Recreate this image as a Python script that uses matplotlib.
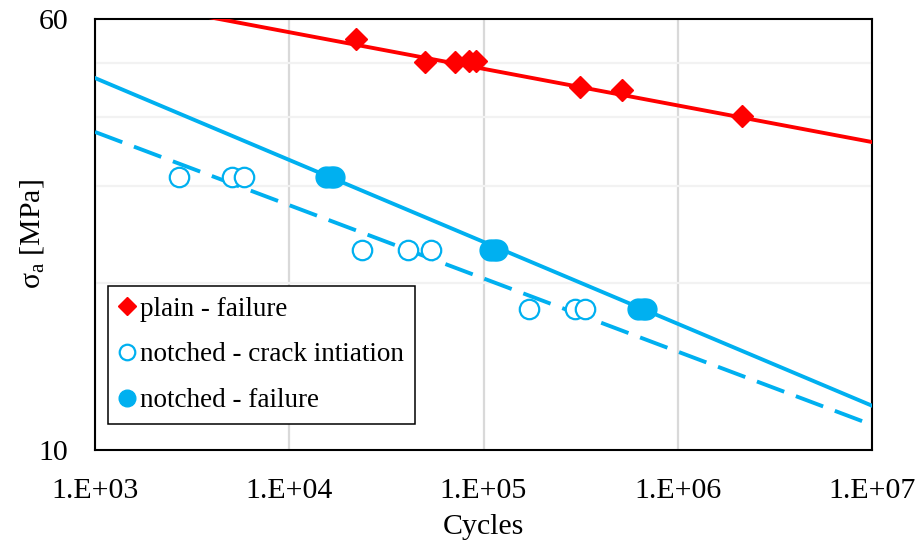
import numpy as np
import matplotlib
matplotlib.use("Agg")
from matplotlib import pyplot as plt
from matplotlib.ticker import FixedLocator, NullLocator, FuncFormatter

plt.rcParams['font.family'] = ['Liberation Serif', 'DejaVu Serif']
plt.rcParams['mathtext.fontset'] = 'custom'
plt.rcParams['mathtext.rm'] = 'Liberation Serif'

# plain specimens - failure
plain_N = [22100, 49800, 71000, 84000, 91000, 314000, 516000, 2130000]
plain_S = [55.1, 50.1, 50.2, 50.4, 50.4, 45.2, 44.7, 40.1]

# notched specimens - crack initiation
crack_N = [2700, 5050, 5870, 23600, 40700, 53400, 171000, 295000, 333000]
crack_S = [31.1, 31.1, 31.1, 23.0, 23.0, 23.0, 18.0, 18.0, 18.0]

# notched specimens - failure
fail_N = [15500, 16500, 17000, 108000, 113000, 117000, 625000, 660000, 690000]
fail_S = [31.1, 31.1, 31.1, 23.0, 23.0, 23.0, 18.0, 18.0, 18.0]

# power-law trendlines S = A * N^b
plain_A, plain_b = 104.4, -0.0661
fail_A, fail_b = 130.4, -0.1479
crack_A, crack_b = 93.5, -0.1322

red = '#FF0000'
blue = '#00B0F0'

fig = plt.figure(figsize=(9.2, 5.5), dpi=100)
ax = fig.add_axes([95/920, 100/550, 777/920, 431/550])
ax.set_xscale('log')
ax.set_yscale('log')
ax.set_xlim(1e3, 1e7)
ax.set_ylim(10, 60)

Nfit = np.logspace(3, 7, 200)
ax.plot(Nfit, plain_A * Nfit**plain_b, color=red, lw=2.8, zorder=3)
ax.plot(Nfit, fail_A * Nfit**fail_b, color=blue, lw=2.8, zorder=3)
ax.plot(Nfit, crack_A * Nfit**crack_b, color=blue, lw=2.8, dashes=(7.5, 3.2), zorder=3)

ax.plot(plain_N, plain_S, 'D', color=red, ms=11.5, mec=red, ls='none',
        label='plain - failure', zorder=4)
ax.plot(crack_N, crack_S, 'o', mfc='white', mec=blue, mew=1.6, ms=14, ls='none',
        label='notched - crack intiation', zorder=4)
ax.plot(fail_N, fail_S, 'o', color=blue, ms=15, ls='none',
        label='notched - failure', zorder=4)

# ticks and grid
ax.xaxis.set_major_locator(FixedLocator([1e3, 1e4, 1e5, 1e6, 1e7]))
ax.xaxis.set_minor_locator(NullLocator())
ax.xaxis.set_major_formatter(FuncFormatter(lambda v, p: '1.E+%02d' % round(np.log10(v))))
ax.yaxis.set_major_locator(FixedLocator([10, 60]))
ax.yaxis.set_minor_locator(FixedLocator([20, 30, 40, 50]))
ax.yaxis.set_major_formatter(FuncFormatter(lambda v, p: '%d' % v))
ax.yaxis.set_minor_formatter(FuncFormatter(lambda v, p: ''))
ax.tick_params(axis='both', which='both', length=0, labelsize=21.5)
ax.tick_params(axis='x', pad=20)
ax.tick_params(axis='y', pad=19)
ax.grid(axis='x', which='major', color='#D9D9D9', lw=1.6, zorder=0)
ax.grid(axis='y', which='minor', color='#F2F2F2', lw=1.6, zorder=0)
ax.set_axisbelow(True)

for s in ax.spines.values():
    s.set_linewidth(1.5)
    s.set_color('black')

ax.set_xlabel('Cycles', fontsize=21.5, labelpad=7)
ax.set_ylabel(r'σ$\mathregular{_a}$ [MPa]', fontsize=21.5)
ax.yaxis.set_label_coords(-0.063, 0.5)

leg = ax.legend(loc='lower left', bbox_to_anchor=(0.0167, 0.060), borderaxespad=0,
                fontsize=19.5, frameon=True, fancybox=False, framealpha=1,
                edgecolor='black', handlelength=0.6, handletextpad=0.2,
                borderpad=0.4, labelspacing=0.77, markerscale=0.8)
leg.get_frame().set_linewidth(1.1)
leg.set_zorder(5)

fig.savefig('out.png', dpi=100)
